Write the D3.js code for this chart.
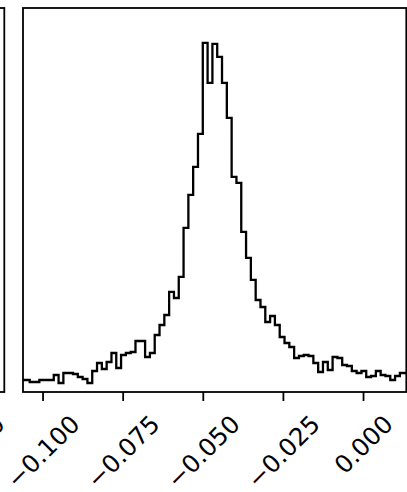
<!DOCTYPE html>
<html>
<head>
<meta charset="utf-8">
<script src="https://cdn.jsdelivr.net/npm/d3@7/dist/d3.min.js"></script>
<style>
  html, body { margin: 0; padding: 0; background: #fff; }
  svg { display: block; }
  text { font-family: "DejaVu Sans", sans-serif; }
</style>
</head>
<body>
<script>
// tick values and their labels on the bottom axis (matplotlib uses a real minus sign)
var tickValues = [-0.100, -0.075, -0.050, -0.025, 0.000];
var tickLabels = ['\u22120.100', '\u22120.075', '\u22120.050', '\u22120.025', '0.000'];
// histogram: first bin edge, bin width, and the count in each bin
var binStart = -0.107;
var binWidth = 0.0015;
var counts = [
  12, 12, 10, 10, 12, 12, 12, 17, 9, 19,
  19, 18, 15, 13, 9, 21, 29, 23, 30, 39,
  24, 37, 39, 40, 51, 51, 35, 39, 57, 67,
  77, 100, 94, 115, 164, 197, 225, 258, 349, 309,
  348, 335, 309, 274, 215, 209, 160, 134, 112, 92,
  85, 70, 76, 67, 55, 49, 45, 34, 36, 37,
  36, 29, 20, 30, 22, 35, 34, 27, 26, 21,
  19, 21, 15, 16, 21, 17, 16, 12, 16, 19, 19
];
// visible x range of this panel
var xDomain = [-0.1061, 0.0135];
// the neighbouring panel's last tick label, mostly cut off at the left edge
var neighbourLabels = ['0.50'];

var W = 407, H = 492;
var box = { left: 23, top: 8, right: 406.3, bottom: 392 };

var svg = d3.select('body').append('svg').attr('width', W).attr('height', H);

var x = d3.scaleLinear().domain(xDomain).range([box.left, box.right]);
var y = d3.scaleLinear().domain([0, 1.1 * d3.max(counts)]).range([box.bottom, box.top]);

svg.append('clipPath').attr('id', 'clip')
  .append('rect')
  .attr('x', box.left).attr('y', box.top)
  .attr('width', box.right - box.left).attr('height', box.bottom - box.top);

// step outline of the histogram, dropping to zero at both ends
var pts = [[binStart, 0]];
counts.forEach(function (c, i) {
  pts.push([binStart + i * binWidth, c]);
  pts.push([binStart + (i + 1) * binWidth, c]);
});
pts.push([binStart + counts.length * binWidth, 0]);

svg.append('path')
  .attr('clip-path', 'url(#clip)')
  .attr('d', d3.line().x(function (d) { return x(d[0]); }).y(function (d) { return y(d[1]); })(pts))
  .attr('fill', 'none')
  .attr('stroke', '#000')
  .attr('stroke-width', 2.3)
  .attr('stroke-linejoin', 'miter');

// bottom axis with rotated labels
var axis = svg.append('g')
  .attr('transform', 'translate(0,' + box.bottom + ')')
  .call(d3.axisBottom(x).tickValues(tickValues).tickSize(9)
    .tickFormat(function (d, i) { return tickLabels[i]; }));
axis.select('.domain').remove();
axis.selectAll('.tick line').attr('stroke', '#000').attr('stroke-width', 1.8);

var fs = 24.5;
function placeRotated(sel, cx) {
  // matplotlib style: rotate 45deg, center the rotated box on the tick, top below the tick
  sel.attr('font-size', fs).attr('fill', '#000')
    .attr('text-anchor', 'middle').attr('y', null).attr('dy', '0.35em');
  sel.each(function () {
    var L = this.getComputedTextLength();
    var side = (L + 1.164 * fs) / Math.SQRT2;
    var top = 17.5;
    d3.select(this).attr('transform', 'translate(' + (cx || 0) + ',' + (top + side / 2) + ') rotate(-45)');
  });
}
placeRotated(axis.selectAll('.tick text'), 0);

// spines
svg.append('rect')
  .attr('x', box.left).attr('y', box.top)
  .attr('width', box.right - box.left).attr('height', box.bottom - box.top)
  .attr('fill', 'none').attr('stroke', '#000').attr('stroke-width', 1.8);

// the neighbouring panel to the left (only its right edge shows)
svg.append('rect')
  .attr('x', -200).attr('y', box.top)
  .attr('width', 204.3).attr('height', box.bottom - box.top)
  .attr('fill', 'none').attr('stroke', '#000').attr('stroke-width', 1.8);
var nb = svg.append('g').attr('transform', 'translate(-19,' + box.bottom + ')')
  .selectAll('text').data(neighbourLabels).enter().append('text')
  .text(function (d) { return d; });
placeRotated(nb, 0);
</script>
</body>
</html>
